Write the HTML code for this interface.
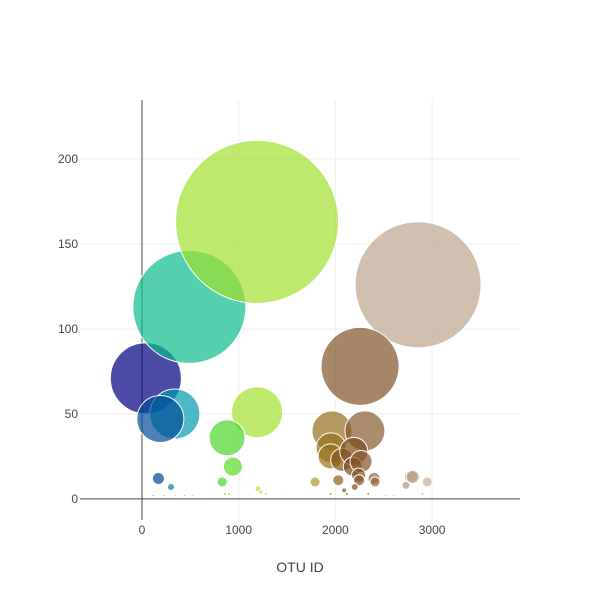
<!DOCTYPE html>
<html><head><meta charset="utf-8"><style>
body{margin:0;background:#fff;}
svg text{font-family:"Liberation Sans",sans-serif;}
</style></head><body>
<svg id="chart" width="600" height="600" xmlns="http://www.w3.org/2000/svg"></svg>
<script>
const otuIds=[40,490,1190,2855,2255,340,190,1190,880,940,170,300,830,1965,2305,1955,1950,2070,2190,2180,2265,2240,2245,2030,2400,2410,1790,2780,2800,2730,2950,2200,2090,120,230,350,440,520,1200,1230,1280,1500,1950,2120,2340,2520,2600,2900,860,900];
const sampleValues=[71,113,163,126,78,50,47,51,36,19,12,7,10,40,40,30,25,23,28,19,22,14,11,11,12,10,10,13,13,8,10,7,5,2,2,2,2,2,6,4,3,2,3,3,3,2,2,3,3,3];
const xTicks=[0,1000,2000,3000];
const yTicks=[0,50,100,150,200];
const svg=document.getElementById('chart');
const NS='http://www.w3.org/2000/svg';
const L=80,R=520,T=100,B=520;
const xMin=-641,xMax=3909,yMin=-12.4,yMax=234.7;
const xs=v=>L+(v-xMin)/(xMax-xMin)*(R-L);
const ys=v=>B-(v-yMin)/(yMax-yMin)*(B-T);
function mk(tag,attrs){const e=document.createElementNS(NS,tag);for(const k in attrs)e.setAttribute(k,attrs[k]);svg.appendChild(e);return e;}
const scale=[[0,[0,0,130]],[0.1,[0,180,180]],[0.2,[40,210,40]],[0.4,[230,230,50]],[0.6,[120,70,20]],[1,[255,255,255]]];
const cMin=Math.min(...otuIds),cMax=3550;
function color(v){let t=(v-cMin)/(cMax-cMin);t=Math.max(0,Math.min(1,t));for(let i=1;i<scale.length;i++){if(t<=scale[i][0]){const a=scale[i-1],b=scale[i];const f=(t-a[0])/(b[0]-a[0]);return 'rgb('+a[1].map((c,j)=>Math.round(c+(b[1][j]-c)*f)).join(',')+')';}}return 'rgb(255,255,255)';}
yTicks.forEach(v=>{
  if(v!==0){const g=mk('line',{x1:L,x2:R,y1:ys(v),y2:ys(v),stroke:'#eee','stroke-width':1});
  
  }
  const t=mk('text',{x:L-2,y:ys(v)+4,'text-anchor':'end','font-size':12,fill:'#444'});t.textContent=v;
  
  
});
xTicks.forEach(v=>{
  if(v!==0){const g=mk('line',{x1:xs(v),x2:xs(v),y1:T,y2:B,stroke:'#eee','stroke-width':1});
  
  }
  const t=mk('text',{x:xs(v),y:B+14,'text-anchor':'middle','font-size':12,fill:'#444'});t.textContent=v;
  
  
});
const zx=mk('line',{x1:xs(0),x2:xs(0),y1:T,y2:B,stroke:'#444','stroke-width':1});


const zy=mk('line',{x1:L,x2:R,y1:ys(0),y2:ys(0),stroke:'#444','stroke-width':1});


const order=otuIds.map((_,i)=>i);
order.forEach(i=>{
  const c=mk('circle',{cx:xs(otuIds[i]),cy:ys(sampleValues[i]),r:sampleValues[i]/2,fill:color(otuIds[i]),'fill-opacity':0.7,stroke:'#fff','stroke-width':1});
  
  
});
const xt=mk('text',{x:300,y:572,'text-anchor':'middle','font-size':14,fill:'#444'});xt.textContent='OTU ID';


</script>
</body></html>
